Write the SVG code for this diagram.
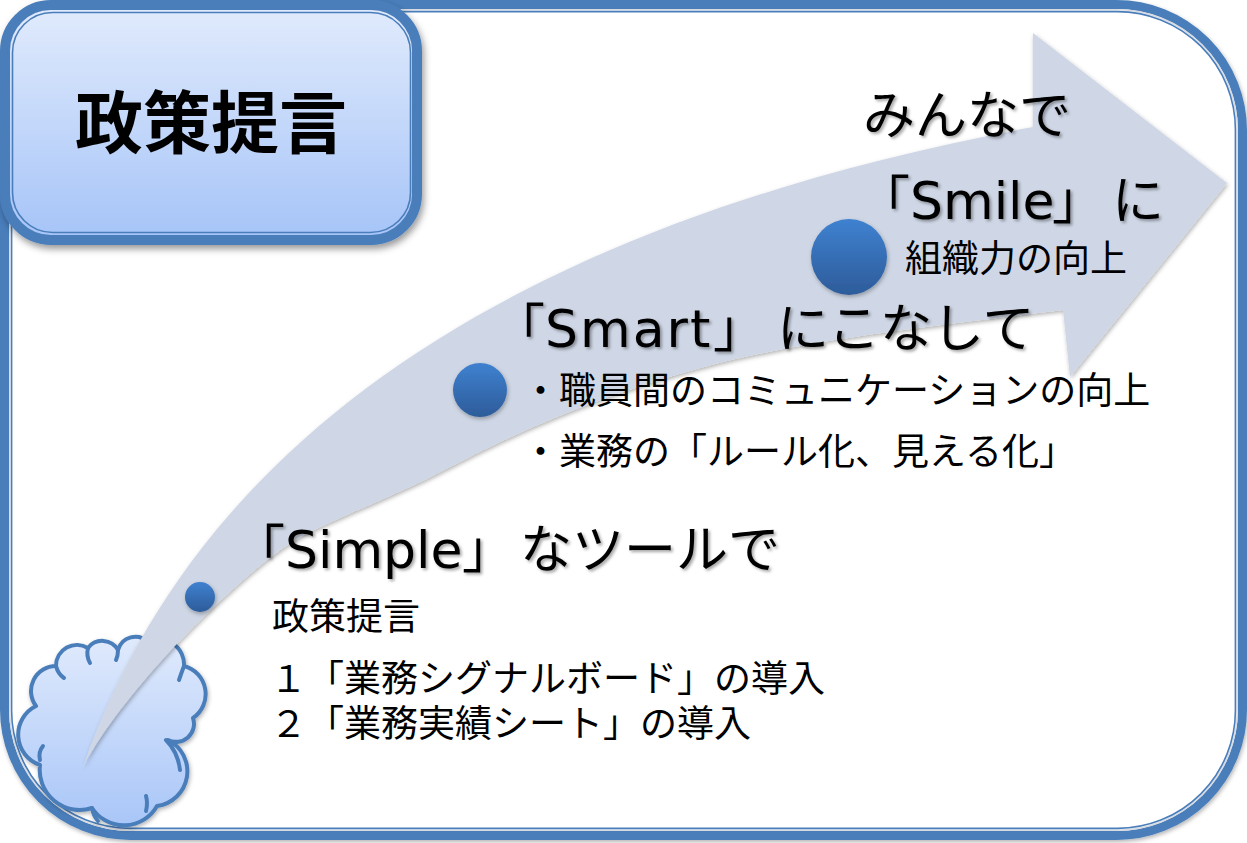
<svg xmlns="http://www.w3.org/2000/svg" width="1247" height="843" viewBox="0 0 1247 843">
<defs>
<linearGradient id="gTitle" x1="0" y1="0" x2="0" y2="1">
<stop offset="0" stop-color="#e1ebfc"/>
<stop offset="1" stop-color="#a6c4f8"/>
</linearGradient>
<linearGradient id="gCloud" x1="0" y1="0" x2="0" y2="1">
<stop offset="0" stop-color="#e0eafc"/>
<stop offset="1" stop-color="#a9c6f8"/>
</linearGradient>
<linearGradient id="gDot" x1="0" y1="0" x2="0" y2="1">
<stop offset="0" stop-color="#3f81d0"/>
<stop offset="1" stop-color="#2d5c9a"/>
</linearGradient>
<filter id="shadow" x="-10%" y="-10%" width="125%" height="130%">
<feDropShadow dx="2" dy="4" stdDeviation="3.5" flood-color="#000" flood-opacity="0.4"/>
</filter>
<filter id="softShadow" x="-10%" y="-10%" width="125%" height="130%">
<feDropShadow dx="1" dy="2" stdDeviation="2" flood-color="#000" flood-opacity="0.3"/>
</filter>
<filter id="txtShadow" x="-5%" y="-20%" width="115%" height="150%">
<feDropShadow dx="2" dy="2" stdDeviation="1.5" flood-color="#000" flood-opacity="0.35"/>
</filter>
<style>
.frame{fill:#ffffff;stroke:#4a7ebb;stroke-width:9}
.thin{fill:none;stroke:#4a7ebb;stroke-width:1.6}
.gap{fill:none;stroke:#d8dce2;stroke-width:1.4}
.jp{font-family:"Noto Sans CJK JP","Noto Sans",sans-serif;fill:#000}
.lat{font-family:"DejaVu Sans","Noto Sans CJK JP",sans-serif}
.head{font-size:52px;font-weight:400}
.body{font-size:37px;font-weight:400}
.dot{fill:url(#gDot)}
</style>
</defs>

<g id="frame" filter="url(#softShadow)">
<rect class="frame" x="4.5" y="4.5" width="1238" height="831" rx="126"/>
<rect class="gap" x="9.8" y="9.8" width="1227.4" height="820.4" rx="120"/>
<rect class="thin" x="11.6" y="11.6" width="1223.8" height="816.8" rx="118"/>
</g>

<g id="cloud" filter="url(#softShadow)">
<path d="M40,765 A32,32 0 0 1 36,706 A25,25 0 0 1 56,666 A21,21 0 0 1 88,648 A18,18 0 0 1 118,650 A18,18 0 0 1 148,642 A25,25 0 0 1 184,666 A29,29 0 0 1 193,718 A18,18 0 0 1 168,740 A35,35 0 0 1 157,806 A38,38 0 0 1 92,808 A40,40 0 0 1 40,765 Z" fill="url(#gCloud)" stroke="#4a7ebb" stroke-width="4" stroke-linejoin="round"/>
<g fill="none" stroke="#4a7ebb" stroke-width="4" stroke-linecap="round">
<path d="M40,760 Q38,752 43,746"/>
<path d="M56,666 Q58,674 64,678"/>
<path d="M88,648 Q86,656 90,663"/>
<path d="M118,650 Q118,656 116,660"/>
<path d="M184,666 Q181,674 179,680"/>
<path d="M166,740 Q178,752 180,770"/>
<path d="M146,796 Q148,803 146,811"/>
<path d="M92,808 Q93,815 98,821"/>
</g>
</g>

<g id="title" filter="url(#shadow)">
<rect x="5" y="5" width="412" height="235" rx="46" fill="url(#gTitle)" stroke="#4a7ebb" stroke-width="10"/>
<rect class="thin" x="12.5" y="12.5" width="398" height="220" rx="40"/>
<text class="jp" x="211" y="148" text-anchor="middle" font-size="68" font-weight="700">政策提言</text>
</g>

<g id="arrow" filter="url(#softShadow)">
<path d="M83,767 C190,460 480,230 1033,127 L1033,33 L1227,183 L1070,377 L1063,310 C940,325 800,340 700,368 C600,396 520,430 450,467 C380,504 320,522 283,548 C240,578 130,680 83,767 Z" fill="#cfd7e6"/>
</g>

<g id="dots" filter="url(#softShadow)">
<circle class="dot" cx="200" cy="597" r="15"/>
<circle class="dot" cx="480" cy="390" r="27"/>
<circle class="dot" cx="849" cy="257" r="38"/>
</g>

<g id="step3">
<text class="jp head" x="863" y="134" filter="url(#txtShadow)">みんなで</text>
<text class="jp head" x="858" y="219" filter="url(#txtShadow)">「<tspan class="lat" x="910">Smile</tspan><tspan x="1052">」</tspan><tspan x="1112">に</tspan></text>
<text class="jp body" x="905" y="272" font-size="36">組織力の向上</text>
</g>

<g id="step2">
<text class="jp head" x="493" y="347" filter="url(#txtShadow)">「<tspan class="lat" x="545" letter-spacing="2">Smart</tspan><tspan x="713">」</tspan><tspan x="777">にこなして</tspan></text>
<text class="jp body" x="522" y="404">・職員間のコミュニケーションの向上</text>
<text class="jp body" x="522" y="465">・業務の「ルール化、見える化」</text>
</g>

<g id="step1">
<text class="jp head" x="233" y="568" filter="url(#txtShadow)">「<tspan class="lat" x="285">Simple</tspan><tspan x="462">」</tspan><tspan x="520">なツールで</tspan></text>
<text class="jp body" x="272" y="630" font-size="36">政策提言</text>
<text class="jp body" x="270" y="692">１「業務シグナルボード」の導入</text>
<text class="jp body" x="270" y="737">２「業務実績シート」の導入</text>
</g>
</svg>
